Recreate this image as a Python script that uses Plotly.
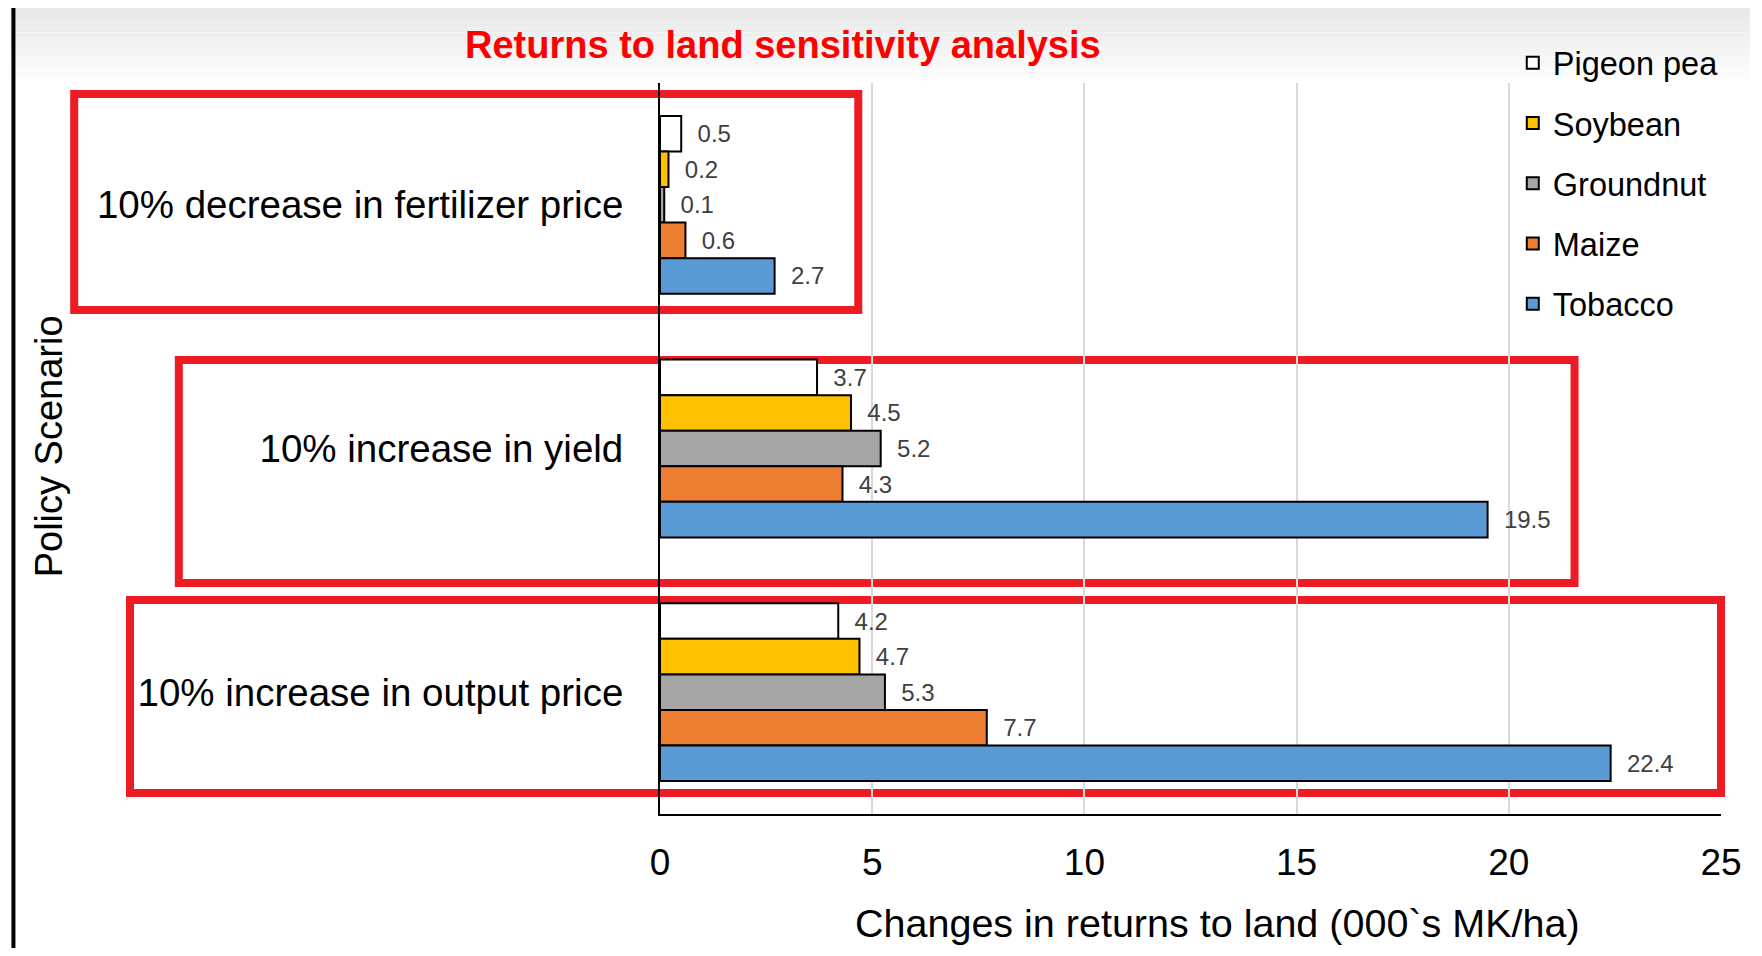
import plotly.graph_objects as go

# ---- data ----
scenarios = ["10% decrease in fertilizer price", "10% increase in yield", "10% increase in output price"]
crops = ["Pigeon pea", "Soybean", "Groundnut", "Maize", "Tobacco"]
pigeon_pea = [0.5, 3.7, 4.2]
soybean = [0.2, 4.5, 4.7]
groundnut = [0.1, 5.2, 5.3]
maize = [0.6, 4.3, 7.7]
tobacco = [2.7, 19.5, 22.4]
x_ticks = [0, 5, 10, 15, 20, 25]

series = [pigeon_pea, soybean, groundnut, maize, tobacco]
colors = ["#FFFFFF", "#FFC000", "#A5A5A5", "#ED7D31", "#5B9BD5"]

# page offset introduced by the default HTML body margin
OX, OY = 8, 8
W, H = 1746, 940
# plot area in page pixels
PL, PR, PT, PB = 660, 1725, 83, 814
L, T = PL - OX, PT - OY
R, B = W - (PR - OX), H - (PB - OY)
PW, PH = PR - PL, PB - PT


def px(x):
    """page pixel x -> paper x"""
    return (x - PL) / PW


def py(y):
    """page pixel y -> paper y"""
    return (PB - y) / PH


FONT = "Liberation Sans, Arial, sans-serif"

fig = go.Figure()
for name, vals, col in zip(crops, series, colors):
    fig.add_trace(go.Bar(
        y=scenarios, x=vals, name=name, orientation="h",
        marker=dict(color=col, line=dict(color="#000000", width=2)),
        texttemplate="\u00a0\u00a0%{x:.1f}", textposition="outside",
        textfont=dict(family=FONT, size=24, color="#404040"),
        constraintext="none", cliponaxis=False,
        legendgroup=name,
    ))

shapes = []
# top gradient of the slide background
n = 16
y0, y1 = OY, 86
for k in range(n):
    g = int(0xE8 + (0xFF - 0xE8) * k / (n - 1))
    shapes.append(dict(type="rect", xref="paper", yref="paper", layer="below",
                       x0=px(OX), x1=px(OX + W), y0=py(y0 + (y1 - y0) * k / n), y1=py(y0 + (y1 - y0) * (k + 1) / n),
                       line=dict(width=0), fillcolor=f"rgb({g},{g},{g})"))
# red highlight boxes
for (bx0, by0, bx1, by1) in [(72, 94, 859, 310), (177, 360, 1578, 583), (128, 600, 1725, 793)]:
    shapes.append(dict(type="rect", xref="paper", yref="paper", layer="below",
                       x0=px(bx0), x1=px(bx1), y0=py(by0), y1=py(by1),
                       line=dict(color="#ED1C24", width=8), fillcolor="rgba(0,0,0,0)"))
# slide frame (left edge)
shapes.append(dict(type="line", xref="paper", yref="paper", x0=px(11), x1=px(11), y0=py(OY), y1=py(OY + H),
                   line=dict(color="#000000", width=4)))

annotations = [
    dict(text="<b>Returns to land sensitivity analysis</b>", x=px(783), y=py(45), xref="paper", yref="paper",
         showarrow=False, xanchor="center", yanchor="middle",
         font=dict(family=FONT, size=38, color="#FF0000")),
    dict(text="Policy Scenario", x=px(47), y=py(446), xref="paper", yref="paper", textangle=-90,
         showarrow=False, xanchor="center", yanchor="middle",
         font=dict(family=FONT, size=38, color="#000000")),
    dict(text="Changes in returns to land (000`s MK/ha)", x=px(1220), y=py(923), xref="paper", yref="paper",
         showarrow=False, xanchor="center", yanchor="middle",
         font=dict(family=FONT, size=39.5, color="#000000")),
]

fig.update_layout(
    width=W, height=H,
    margin=dict(l=L, r=R, t=T, b=B, pad=0),
    paper_bgcolor="#FFFFFF", plot_bgcolor="rgba(0,0,0,0)",
    barmode="group", bargap=0.27, bargroupgap=0,
    font=dict(family=FONT, color="#000000"),
    shapes=shapes, annotations=annotations,
    legend=dict(x=px(1516), y=py(35), xanchor="left", yanchor="top",
                bgcolor="rgba(0,0,0,0)", font=dict(family=FONT, size=32.5, color="#000000"),
                tracegroupgap=15, traceorder="grouped"),
    showlegend=True,
)
fig.update_xaxes(range=[0, 25], tickvals=x_ticks, showgrid=True, gridcolor="#D9D9D9", gridwidth=1.5,
                 showline=True, linecolor="#000000", linewidth=2, zeroline=False,
                 ticks="", ticklabelstandoff=15, tickfont=dict(family=FONT, size=37, color="#000000"))
fig.update_yaxes(type="category", categoryorder="array", categoryarray=scenarios, autorange="reversed",
                 showline=True, linecolor="#000000", linewidth=2, showgrid=False, zeroline=False,
                 ticks="", ticklabelstandoff=27, tickfont=dict(family=FONT, size=38.5, color="#000000"))

fig.write_html("out.html")
